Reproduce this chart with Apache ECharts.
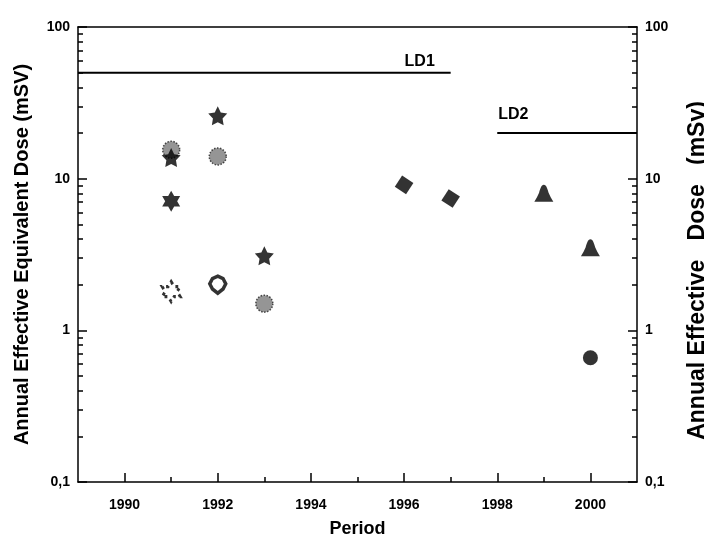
<!DOCTYPE html>
<html>
<head>
<meta charset="utf-8">
<script src="https://cdn.jsdelivr.net/npm/echarts@6/dist/echarts.min.js"></script>
<style>
html,body{margin:0;padding:0;background:#fff;}
#chart{width:704px;height:542px;}
</style>
</head>
<body>
<div id="chart"></div>
<script>
// ---- data ----
const xMajorTicks = [1990, 1992, 1994, 1996, 1998, 2000];
const xMinorTicks = [1991, 1993, 1995, 1997, 1999];
const yMajorTicks = [0.1, 1, 10, 100];
const yMinorTicks = [0.2,0.3,0.4,0.5,0.6,0.7,0.8,0.9,2,3,4,5,6,7,8,9,20,30,40,50,60,70,80,90];

const hatchedPts   = [[1991, 15.5], [1992, 14], [1993, 1.5]];
const star5Pts     = [[1991, 13.8], [1992, 26], [1993, 3.1]];
const hexStarPts   = [[1991, 7.1]];
const openHexPts   = [[1991, 1.8]];
const openShieldPts= [[1992, 2.0]];
const diamondPts   = [[1996, 9.1], [1997, 7.4]];
const trianglePts  = [[1999, 8.0], [2000, 3.5]];
const circlePts    = [[2000, 0.66]];

const ld1 = [[1989, 50], [1997, 50]];
const ld2 = [[1998, 20], [2001, 20]];

// ---- styles ----
const FONT = '"Liberation Sans", Arial, sans-serif';
const hexPath = 'path://M0,-10 L2.887,-5 L8.66,-5 L5.774,0 L8.66,5 L2.887,5 L0,10 L-2.887,5 L-8.66,5 L-5.774,0 L-8.66,-5 L-2.887,-5 Z';
const star5Path = 'path://M0,-10 L3,-4 L9.5,-3.1 L4.8,1.8 L5.9,8.1 L0,5.2 L-5.9,8.1 L-4.8,1.8 L-9.5,-3.1 L-3,-4 Z';
const shieldPath = 'path://M0,-10 L6,-7 L9,-1 L6,5 L0,10 L-6,5 L-9,-1 L-6,-7 Z';
const bellPath = 'path://M0,-9 C2.5,-9 3.5,-5 4.5,-2 L6.5,2 L9,6 L-9,6 L-6.5,2 L-4.5,-2 C-3.5,-5 -2.5,-9 0,-9 Z';

const chart = echarts.init(document.getElementById('chart'), null, {renderer:'canvas'});

const labelStyle = {color:'#000', fontFamily:FONT, fontWeight:'bold', fontSize:14};
const nameStyle = {color:'#000', fontFamily:FONT, fontWeight:'bold', fontSize:18};
const axisLine = {show:true, onZero:false, lineStyle:{color:'#000', width:1.5}};
const tickLine = {color:'#000', width:1.5};

function yFmt(v){ return Math.abs(v-0.1)<1e-9 ? '0,1' : String(v); }

const gridRect = {left:78, right:67, top:27, bottom:60, show:false, outerBoundsMode:'none', containLabel:false};

const option = {
  animation:false,
  backgroundColor:'#fff',
  grid:[Object.assign({}, gridRect), Object.assign({}, gridRect)],
  xAxis:[
    {gridIndex:0, type:'value', min:1989, max:2001, position:'bottom', axisLine:axisLine,
     axisTick:{show:true, inside:true, length:9, customValues:xMajorTicks, lineStyle:tickLine},
     axisLabel:Object.assign({customValues:xMajorTicks, margin:16, formatter:v=>String(v)}, labelStyle),
     splitLine:{show:false},
     name:'Period', nameLocation:'middle', nameGap:38, nameTextStyle:nameStyle},
    {gridIndex:0, type:'value', min:1989, max:2001, position:'top', axisLine:axisLine,
     axisTick:{show:false}, axisLabel:{show:false}, splitLine:{show:false}},
    {gridIndex:1, type:'value', min:1989, max:2001, position:'bottom', axisLine:{show:false},
     axisTick:{show:true, inside:true, length:5, customValues:xMinorTicks, lineStyle:tickLine},
     axisLabel:{show:false}, splitLine:{show:false}}
  ],
  yAxis:[
    {gridIndex:0, type:'log', logBase:10, min:0.1, max:100, position:'left', axisLine:axisLine,
     axisTick:{show:true, inside:true, length:9, customValues:yMajorTicks, lineStyle:tickLine},
     axisLabel:Object.assign({customValues:yMajorTicks, margin:8, formatter:yFmt}, labelStyle),
     splitLine:{show:false},
     name:'Annual Effective Equivalent Dose (mSV)', nameLocation:'middle', nameGap:46, nameRotate:90,
     nameTextStyle:Object.assign({}, nameStyle, {fontSize:20})},
    {gridIndex:0, type:'log', logBase:10, min:0.1, max:100, position:'right', axisLine:axisLine,
     axisTick:{show:true, inside:true, length:9, customValues:yMajorTicks, lineStyle:tickLine},
     axisLabel:Object.assign({customValues:yMajorTicks, margin:8, formatter:yFmt}, labelStyle),
     splitLine:{show:false},
     name:'Annual Effective   Dose   (mSv)     ', nameLocation:'middle', nameGap:49, nameRotate:90,
     nameTextStyle:Object.assign({}, nameStyle, {fontSize:23})},
    {gridIndex:1, type:'log', logBase:10, min:0.1, max:100, position:'left', axisLine:{show:false},
     axisTick:{show:true, inside:true, length:5, customValues:yMinorTicks, lineStyle:tickLine},
     axisLabel:{show:false}, splitLine:{show:false}},
    {gridIndex:1, type:'log', logBase:10, min:0.1, max:100, position:'right', axisLine:{show:false},
     axisTick:{show:true, inside:true, length:5, customValues:yMinorTicks, lineStyle:tickLine},
     axisLabel:{show:false}, splitLine:{show:false}}
  ],
  series:[
    {type:'line', data:ld1, symbol:'circle', symbolSize:0.1, showSymbol:true, lineStyle:{color:'#000', width:2},
     itemStyle:{color:'#000'},
     label:{show:true, position:'top', distance:3, offset:[-31,0], color:'#000', fontFamily:FONT, fontWeight:'bold', fontSize:16,
            formatter:p=>p.dataIndex===1?'LD1':''}},
    {type:'line', data:ld2, symbol:'circle', symbolSize:0.1, showSymbol:true, lineStyle:{color:'#000', width:2},
     itemStyle:{color:'#000'},
     label:{show:true, position:'top', distance:10, offset:[16,0], color:'#000', fontFamily:FONT, fontWeight:'bold', fontSize:16,
            formatter:p=>p.dataIndex===0?'LD2':''}},
    {type:'scatter', data:hatchedPts, symbol:'circle', symbolSize:17,
     itemStyle:{color:'#7a7a7a', borderColor:'#222', borderWidth:1.5, borderType:'dotted'}},
    {type:'scatter', data:star5Pts, symbol:star5Path, symbolSize:19, z:3, itemStyle:{color:'#000'}},
    {type:'scatter', data:hexStarPts, symbol:hexPath, symbolSize:[18,21], itemStyle:{color:'#000'}},
    {type:'scatter', data:openHexPts, symbol:hexPath, symbolSize:[18,20],
     itemStyle:{color:'#fff', borderColor:'#000', borderWidth:3, borderType:[3,4]}},
    {type:'scatter', data:openShieldPts, symbol:shieldPath, symbolSize:[16,17],
     itemStyle:{color:'#fff', borderColor:'#000', borderWidth:3.5}},
    {type:'scatter', data:diamondPts, symbol:'diamond', symbolSize:[19,19], symbolRotate:12, itemStyle:{color:'#000'}},
    {type:'scatter', data:trianglePts, symbol:bellPath, symbolSize:[19,17], itemStyle:{color:'#000'}},
    {type:'scatter', data:circlePts, symbol:'circle', symbolSize:15, itemStyle:{color:'#000'}}
  ]
};
chart.setOption(option);
</script>
</body>
</html>
